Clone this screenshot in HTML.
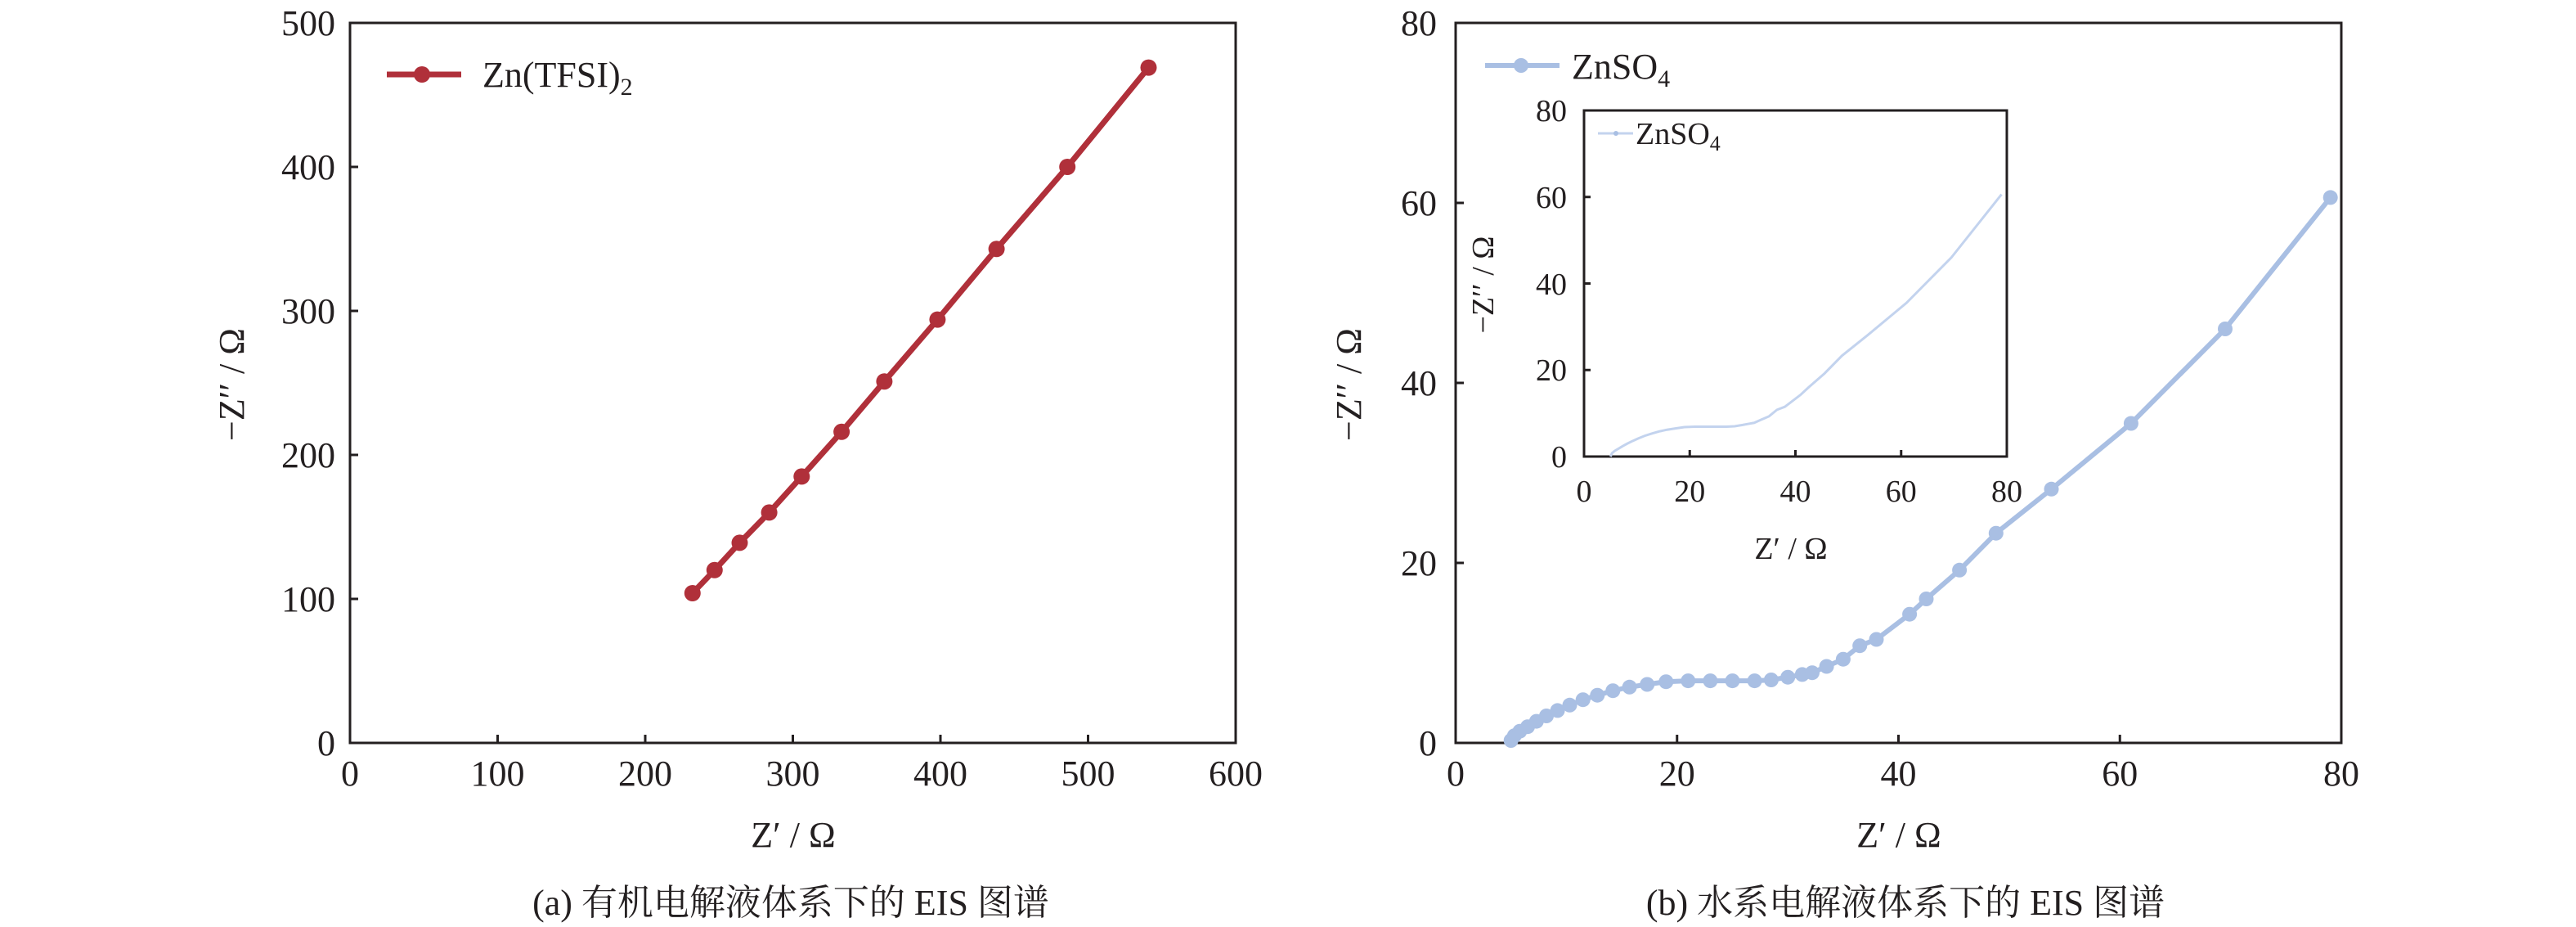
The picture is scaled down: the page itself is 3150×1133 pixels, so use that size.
<!DOCTYPE html>
<html><head><meta charset="utf-8"><style>
html,body{margin:0;padding:0;background:#fff;}
svg{display:block;}
text{font-family:"Liberation Serif","Noto Serif CJK SC",serif;fill:#231f20;}
</style></head><body>
<svg width="3150" height="1133" viewBox="0 0 3150 1133" xmlns="http://www.w3.org/2000/svg">
<!-- LEFT PLOT -->
<g stroke="#231f20" stroke-width="3" fill="none">
<rect x="428" y="28" width="1083" height="880"/>
<path d="M608.5 908v-10M789 908v-10M969.5 908v-10M1150 908v-10M1330.5 908v-10M428 732h10M428 556h10M428 380h10M428 204h10"/>
</g>
<g font-size="44" text-anchor="end">
<text x="410" y="923">0</text><text x="410" y="747">100</text><text x="410" y="571">200</text>
<text x="410" y="395">300</text><text x="410" y="219">400</text><text x="410" y="43">500</text>
</g>
<g font-size="44" text-anchor="middle">
<text x="428" y="960">0</text><text x="608.5" y="960">100</text><text x="789" y="960">200</text>
<text x="969.5" y="960">300</text><text x="1150" y="960">400</text><text x="1330.5" y="960">500</text><text x="1511" y="960">600</text>
<text x="970" y="1035">Z′ / Ω</text>
<text transform="translate(298,470) rotate(-90)">−Z′′ / Ω</text>
<text x="967" y="1118">(a) 有机电解液体系下的 EIS 图谱</text>
</g>
<g stroke="#b0303a" fill="#b0303a">
<polyline fill="none" stroke-width="7" points="846.8,725 873.8,696.8 904.5,663.4 940.6,626.4 980.3,582.4 1029.1,527.8 1081.4,466.2 1146.4,390.6 1218.6,304.3 1305.2,204 1404.5,82.6"/>
<g stroke="none">
<circle cx="846.8" cy="725" r="10"/><circle cx="873.8" cy="696.8" r="10"/><circle cx="904.5" cy="663.4" r="10"/>
<circle cx="940.6" cy="626.4" r="10"/><circle cx="980.3" cy="582.4" r="10"/><circle cx="1029.1" cy="527.8" r="10"/>
<circle cx="1081.4" cy="466.2" r="10"/><circle cx="1146.4" cy="390.6" r="10"/><circle cx="1218.6" cy="304.3" r="10"/>
<circle cx="1305.2" cy="204" r="10"/><circle cx="1404.5" cy="82.6" r="10"/>
</g>
<line x1="473" y1="91" x2="564" y2="91" stroke-width="7"/>
<circle cx="516" cy="91" r="10" stroke="none"/>
</g>
<text x="590" y="106" font-size="44">Zn(TFSI)<tspan font-size="30" dy="10">2</tspan></text>

<!-- RIGHT PLOT -->
<g stroke="#231f20" stroke-width="3" fill="none">
<rect x="1780" y="28" width="1083" height="880"/>
<path d="M2050.75 908v-10M2321.5 908v-10M2592.25 908v-10M1780 688h10M1780 468h10M1780 248h10"/>
</g>
<g font-size="44" text-anchor="end">
<text x="1757" y="923">0</text><text x="1757" y="703">20</text><text x="1757" y="483">40</text>
<text x="1757" y="263">60</text><text x="1757" y="43">80</text>
</g>
<g font-size="44" text-anchor="middle">
<text x="1780" y="960">0</text><text x="2050.75" y="960">20</text><text x="2321.5" y="960">40</text>
<text x="2592.25" y="960">60</text><text x="2863" y="960">80</text>
<text x="2322" y="1035">Z′ / Ω</text>
<text transform="translate(1664,470) rotate(-90)">−Z′′ / Ω</text>
<text x="2330" y="1118">(b) 水系电解液体系下的 EIS 图谱</text>
</g>
<g stroke="#a9bfe3" fill="#a9bfe3">
<polyline fill="none" stroke-width="6" points="1847.7,908 1851.8,899.2 1858.5,893.7 1868,888.2 1878.8,881.6 1891,875 1904.6,868.4 1919.5,861.8 1935.7,855.2 1953.3,849.7 1972.3,844.2 1992.6,839.8 2014.2,836.5 2037.3,833.2 2064.3,832.1 2091.4,832.1 2118.5,832.1 2145.6,832.1 2165.9,831 2186.2,827.7 2203.8,824.4 2216,822.2 2233.6,814.5 2253.9,805.7 2274.2,789.2 2294.5,781.5 2335.1,750.7 2355.5,732 2396.1,696.8 2440.8,651.7 2508.5,597.8 2605.9,517.5 2721,402 2849.7,241.4"/>
<g stroke="none">
<circle cx="1847.7" cy="905" r="9"/><circle cx="1851.8" cy="899.2" r="9"/><circle cx="1858.5" cy="893.7" r="9"/><circle cx="1868" cy="888.2" r="9"/>
<circle cx="1878.8" cy="881.6" r="9"/><circle cx="1891" cy="875" r="9"/><circle cx="1904.6" cy="868.4" r="9"/><circle cx="1919.5" cy="861.8" r="9"/>
<circle cx="1935.7" cy="855.2" r="9"/><circle cx="1953.3" cy="849.7" r="9"/><circle cx="1972.3" cy="844.2" r="9"/><circle cx="1992.6" cy="839.8" r="9"/>
<circle cx="2014.2" cy="836.5" r="9"/><circle cx="2037.3" cy="833.2" r="9"/><circle cx="2064.3" cy="832.1" r="9"/><circle cx="2091.4" cy="832.1" r="9"/>
<circle cx="2118.5" cy="832.1" r="9"/><circle cx="2145.6" cy="832.1" r="9"/><circle cx="2165.9" cy="831" r="9"/><circle cx="2186.2" cy="827.7" r="9"/>
<circle cx="2203.8" cy="824.4" r="9"/><circle cx="2216" cy="822.2" r="9"/><circle cx="2233.6" cy="814.5" r="9"/><circle cx="2253.9" cy="805.7" r="9"/>
<circle cx="2274.2" cy="789.2" r="9"/><circle cx="2294.5" cy="781.5" r="9"/><circle cx="2335.1" cy="750.7" r="9"/><circle cx="2355.5" cy="732" r="9"/>
<circle cx="2396.1" cy="696.8" r="9"/><circle cx="2440.8" cy="651.7" r="9"/><circle cx="2508.5" cy="597.8" r="9"/><circle cx="2605.9" cy="517.5" r="9"/>
<circle cx="2721" cy="402" r="9"/><circle cx="2849.7" cy="241.4" r="9"/>
</g>
<line x1="1816" y1="80" x2="1907" y2="80" stroke-width="6"/>
<circle cx="1860" cy="80" r="9" stroke="none"/>
</g>
<text x="1922" y="96" font-size="44">ZnSO<tspan font-size="30" dy="10">4</tspan></text>

<!-- INSET -->
<rect x="1937" y="135" width="517" height="423" fill="#fff" stroke="#231f20" stroke-width="3"/>
<g stroke="#231f20" stroke-width="3" fill="none">
<path d="M2066.25 558v-8M2195.5 558v-8M2324.75 558v-8M1937 452.25h8M1937 346.5h8M1937 240.75h8"/>
</g>
<g font-size="38" text-anchor="end">
<text x="1916" y="571">0</text><text x="1916" y="465">20</text><text x="1916" y="360">40</text>
<text x="1916" y="254">60</text><text x="1916" y="148">80</text>
</g>
<g font-size="38" text-anchor="middle">
<text x="1937" y="613">0</text><text x="2066.25" y="613">20</text><text x="2195.5" y="613">40</text>
<text x="2324.75" y="613">60</text><text x="2454" y="613">80</text>
<text x="2190" y="683">Z′ / Ω</text>
<text transform="translate(1826,348) rotate(-90)">−Z′′ / Ω</text>
</g>
<g transform="translate(1937,558) scale(6.4625,-5.2875)">
<polyline fill="none" stroke="#c3d3ee" stroke-width="3" vector-effect="non-scaling-stroke" points="5,0 5.3,0.8 5.8,1.3 6.5,1.8 7.3,2.4 8.2,3 9.2,3.6 10.3,4.2 11.5,4.8 12.8,5.3 14.2,5.8 15.7,6.2 17.3,6.5 19,6.8 21,6.9 23,6.9 25,6.9 27,6.9 28.5,7 30,7.3 31.3,7.6 32.2,7.8 33.5,8.5 35,9.3 36.5,10.8 38,11.5 41,14.3 42.5,16 45.5,19.2 48.8,23.3 53.8,28.2 61,35.5 69.5,46 79,60.6"/>
</g>
<line x1="1954" y1="163" x2="1997" y2="163" stroke="#c3d3ee" stroke-width="3"/>
<circle cx="1976" cy="163" r="3" fill="#a9bfe3"/>
<text x="2000" y="176" font-size="38">ZnSO<tspan font-size="26" dy="8">4</tspan></text>
</svg>
</body></html>
